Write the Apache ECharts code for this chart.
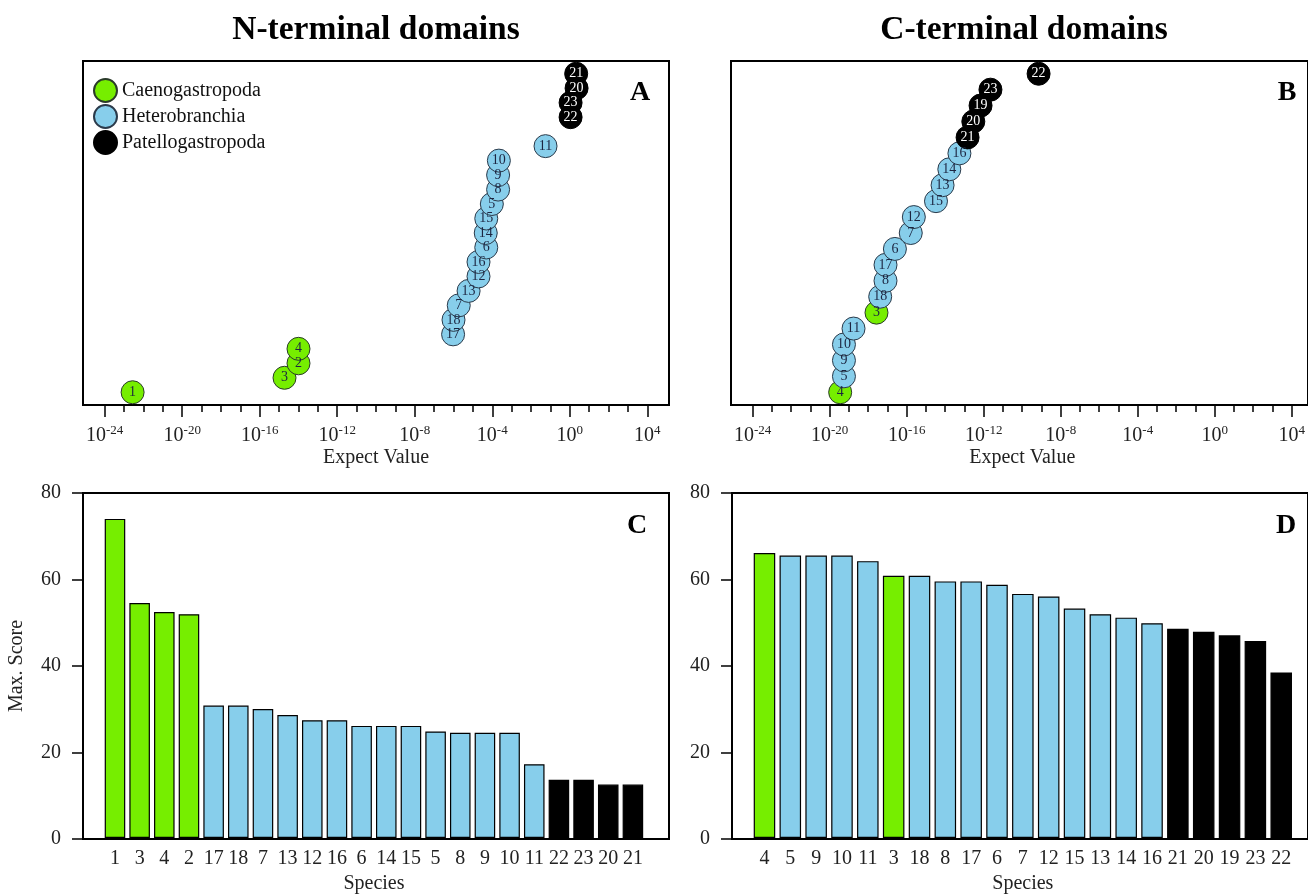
<!DOCTYPE html>
<html>
<head>
<meta charset="utf-8">
<script src="https://cdn.jsdelivr.net/npm/echarts@6/dist/echarts.min.js"></script>
<style>
html,body{margin:0;padding:0;background:#fff;}
#chart{width:1308px;height:895px;}
</style>
</head>
<body>
<div id="chart"></div>
<script>
// ---------- DATA ----------
const groupNames = ['Caenogastropoda', 'Heterobranchia', 'Patellogastropoda'];
const caenoSpecies = [1, 2, 3, 4];
const patelloSpecies = [19, 20, 21, 22, 23];

// Panel A: N-terminal domains, E-values (ordered by rank from bottom)
const speciesA = [1, 3, 2, 4, 17, 18, 7, 13, 12, 16, 6, 14, 15, 5, 8, 9, 10, 11, 22, 23, 20, 21];
const rankA    = [1, 2, 3, 4, 5, 6, 7, 8, 9, 10, 11, 12, 13, 14, 15, 16, 17, 18, 20, 21, 22, 23];
const evalueA  = [2.75e-23, 1.9e-15, 1.0e-14, 1.0e-14, 9.5e-7, 1.0e-6, 1.86e-6, 6.0e-6, 1.95e-5, 1.95e-5,
                  4.9e-5, 4.6e-5, 4.9e-5, 9.5e-5, 2.0e-4, 2.0e-4, 2.19e-4, 0.056, 1.1, 1.1, 2.24, 2.14];

// Panel B: C-terminal domains
const speciesB = [4, 5, 9, 10, 11, 3, 18, 8, 17, 6, 7, 12, 15, 13, 14, 16, 21, 20, 19, 23, 22];
const rankB    = [1, 2, 3, 4, 5, 6, 7, 8, 9, 10, 11, 12, 13, 14, 15, 16, 17, 18, 19, 20, 21];
const evalueB  = [4.0e-20, 6.3e-20, 6.3e-20, 6.3e-20, 2.0e-19, 3.2e-18, 5.0e-18, 9.5e-18, 9.5e-18, 2.95e-17,
                  2.0e-16, 2.9e-16, 4.2e-15, 9.3e-15, 2.1e-14, 7.1e-14, 1.9e-13, 3.8e-13, 9.1e-13, 3.0e-12, 1.0e-9];

// Panel C: N-terminal max scores
const speciesC = [1, 3, 4, 2, 17, 18, 7, 13, 12, 16, 6, 14, 15, 5, 8, 9, 10, 11, 22, 23, 20, 21];
const scoreC   = [74.0, 54.5, 52.4, 51.9, 30.7, 30.7, 29.9, 28.5, 27.3, 27.3, 26.0, 26.0, 26.0, 24.7, 24.4, 24.4, 24.4, 17.1, 13.5, 13.5, 12.4, 12.4];

// Panel D: C-terminal max scores
const speciesD = [4, 5, 9, 10, 11, 3, 18, 8, 17, 6, 7, 12, 15, 13, 14, 16, 21, 20, 19, 23, 22];
const scoreD   = [66.1, 65.5, 65.5, 65.5, 64.2, 60.8, 60.8, 59.5, 59.5, 58.7, 56.6, 56.0, 53.2, 51.9, 51.1, 49.8, 48.5, 47.8, 47.0, 45.7, 38.4];

const logTicks = [-24, -20, -16, -12, -8, -4, 0, 4];

// ---------- STYLE ----------
const FONT = '"Liberation Serif", "DejaVu Serif", serif';
const groupFill = ['#76EE00', '#87CEEB', '#000000'];
const groupLabel = ['#1c2541', '#1c2541', '#ffffff'];
const groupBorder = ['#2a3a2a', '#2b3a4a', '#000000'];

function groupOf(sp) {
  if (caenoSpecies.indexOf(sp) >= 0) return 0;
  if (patelloSpecies.indexOf(sp) >= 0) return 2;
  return 1;
}

// ---------- LAYOUT ----------
const boxW = 586;
const boxA = {left: 83, top: 61, width: boxW, height: 344};
const boxB = {left: 731, top: 61, width: boxW, height: 344};
const boxC = {left: 83, top: 493, width: boxW, height: 346};
const boxD = {left: 732, top: 493, width: boxW, height: 346};
const logMin = -25.12, logMax = 5.12;
const pxPerDec = boxW / (logMax - logMin);
function innerLog(box) {
  return {left: box.left + (logTicks[0] - logMin) * pxPerDec, top: box.top,
          width: (logTicks[logTicks.length - 1] - logTicks[0]) * pxPerDec, height: box.height};
}
function innerBar(box, n) {
  const span = n * 1.2 + 0.2;          // R barplot extent with bars from 0.2
  const ext = (span - 0.2) * 0.04;
  const lo = 0.2 - ext, hi = span + ext;
  const ppu = box.width / (hi - lo);
  return {left: box.left + (0.1 - lo) * ppu, top: box.top,
          width: (n * 1.2) * ppu, height: box.height};
}
function boxGrid(b) {
  return Object.assign({show: true, borderColor: '#000', borderWidth: 2, backgroundColor: 'transparent'}, b);
}

const grids = [
  boxGrid(boxA), innerLog(boxA),
  boxGrid(boxB), innerLog(boxB),
  boxGrid(boxC), innerBar(boxC, speciesC.length),
  boxGrid(boxD), innerBar(boxD, speciesD.length)
];

const richLog = {
  b: {fontFamily: FONT, fontSize: 20, color: '#222', lineHeight: 24, verticalAlign: 'middle'},
  s: {fontFamily: FONT, fontSize: 13, color: '#222', lineHeight: 13, verticalAlign: 'top'}
};
function logAxis(gi) {
  return {
    type: 'value', gridIndex: gi, min: logTicks[0], max: logTicks[logTicks.length - 1], interval: 4,
    axisLine: {show: true, lineStyle: {color: '#000', width: 2}},
    axisTick: {show: true, length: 12, lineStyle: {color: '#000', width: 1.5}},
    minorTick: {show: true, splitNumber: 4, length: 7, lineStyle: {color: '#000', width: 1.5}},
    splitLine: {show: false},
    axisLabel: {margin: 19, formatter: v => '{b|10}{s|' + v + '}', rich: richLog},
    name: 'Expect Value', nameLocation: 'middle', nameGap: 43,
    nameTextStyle: {fontFamily: FONT, fontSize: 20, color: '#222'}
  };
}
function hiddenVal(gi, mn, mx) {
  return {type: 'value', gridIndex: gi, min: mn, max: mx, show: false, splitLine: {show: false}};
}
function catAxis(gi, cats) {
  return {
    type: 'category', gridIndex: gi, data: cats.map(String),
    axisLine: {show: false}, axisTick: {show: false},
    axisLabel: {interval: 0, margin: 11, fontFamily: FONT, fontSize: 20, color: '#222'},
    name: 'Species', nameLocation: 'middle', nameGap: 36,
    nameTextStyle: {fontFamily: FONT, fontSize: 20, color: '#222'}
  };
}
function scoreAxis(gi, withName) {
  const ax = {
    type: 'value', gridIndex: gi, min: 0, max: 80, interval: 20,
    axisLine: {show: true, lineStyle: {color: '#000', width: 2}},
    axisTick: {show: true, length: 11, lineStyle: {color: '#000', width: 1.5}},
    splitLine: {show: false},
    axisLabel: {margin: 22, fontFamily: FONT, fontSize: 20, color: '#222'}
  };
  if (withName) {
    ax.name = 'Max. Score'; ax.nameLocation = 'middle'; ax.nameGap = 56; ax.nameRotate = 90;
    ax.nameTextStyle = {fontFamily: FONT, fontSize: 20, color: '#222'};
  }
  return ax;
}

const xAxes = [
  hiddenVal(0, logMin, logMax), logAxis(1),
  hiddenVal(2, logMin, logMax), logAxis(3),
  hiddenVal(4, 0, 1), catAxis(5, speciesC),
  hiddenVal(6, 0, 1), catAxis(7, speciesD)
];
const yAxes = [
  hiddenVal(0, 0.12, 23.88), hiddenVal(1, 0, 1),
  hiddenVal(2, 0.2, 21.8), hiddenVal(3, 0, 1),
  scoreAxis(4, true), hiddenVal(5, 0, 80),
  scoreAxis(6, false), hiddenVal(7, 0, 80)
];

function scatterSeries(species, ranks, evals, axisIdx) {
  const out = [];
  for (let g = 0; g < 3; g++) {
    const data = [];
    species.forEach((sp, i) => {
      if (groupOf(sp) === g) data.push([Math.log10(evals[i]), ranks[i], sp]);
    });
    out.push({
      type: 'scatter', name: groupNames[g], xAxisIndex: axisIdx, yAxisIndex: axisIdx,
      symbol: 'circle', symbolSize: 23, data: data, clip: false,
      itemStyle: {color: groupFill[g], borderColor: groupBorder[g], borderWidth: 1, opacity: 1},
      label: {show: true, position: 'inside', formatter: p => String(p.value[2]),
              fontFamily: FONT, fontSize: 14, color: groupLabel[g]},
      emphasis: {disabled: true}
    });
  }
  return out;
}
function barSeries(species, scores, axisIdx) {
  return {
    type: 'bar', xAxisIndex: axisIdx, yAxisIndex: axisIdx, barCategoryGap: '16.667%',
    data: scores.map((v, i) => ({value: v, itemStyle: {color: groupFill[groupOf(species[i])]}})),
    itemStyle: {borderColor: '#000', borderWidth: 1.2},
    emphasis: {disabled: true}
  };
}

const series = []
  .concat(scatterSeries(speciesA, rankA, evalueA, 0))
  .concat(scatterSeries(speciesB, rankB, evalueB, 2))
  .concat([barSeries(speciesC, scoreC, 5), barSeries(speciesD, scoreD, 7)]);

function txt(text, x, y, size) {
  return {type: 'text', x: x, y: y, z: 100,
    style: {text: text, fontFamily: FONT, fontSize: size, fontWeight: 'bold', fill: '#000',
            align: 'center', verticalAlign: 'middle', textAlign: 'center', textVerticalAlign: 'middle'}};
}

const option = {
  backgroundColor: '#fff',
  animation: false,
  grid: grids,
  xAxis: xAxes,
  yAxis: yAxes,
  legend: {
    data: groupNames, orient: 'vertical', left: 88, top: 73, itemGap: 1,
    itemWidth: 23, itemHeight: 23, icon: 'circle', selectedMode: false,
    textStyle: {fontFamily: FONT, fontSize: 20, color: '#111', padding: [0, 0, 0, 0]}
  },
  graphic: [
    txt('N-terminal domains', boxA.left + boxW / 2, 30, 33.5),
    txt('C-terminal domains', boxB.left + boxW / 2, 30, 33.5),
    txt('A', 640, 93, 28),
    txt('B', 1287, 93, 28),
    txt('C', 637, 526, 28),
    txt('D', 1286, 526, 28)
  ],
  series: series
};

const chart = echarts.init(document.getElementById('chart'), null, {renderer: 'canvas'});
chart.setOption(option);
</script>
</body>
</html>
